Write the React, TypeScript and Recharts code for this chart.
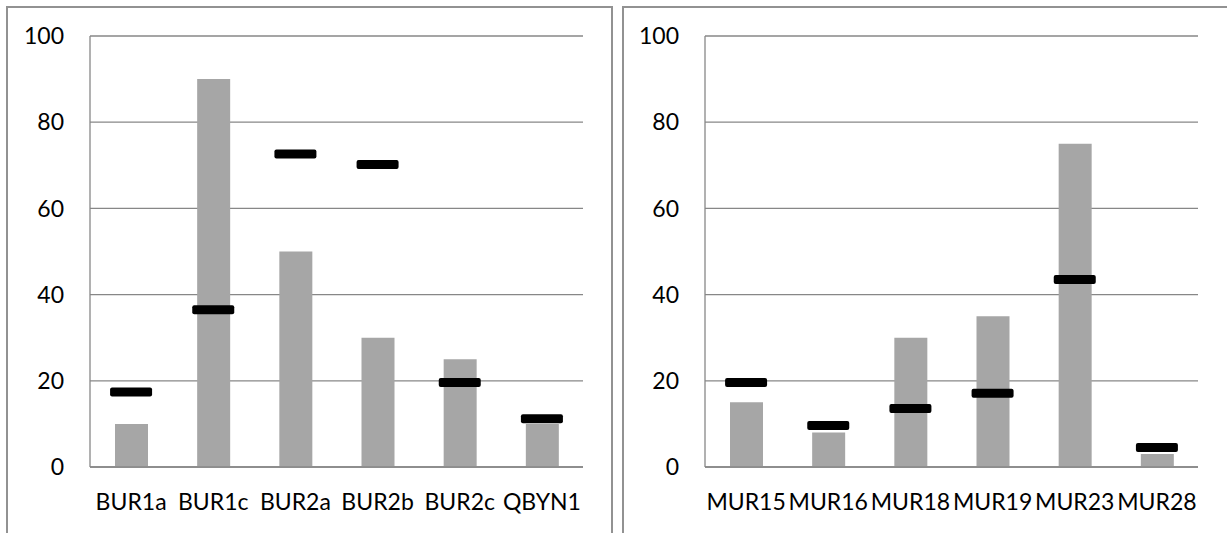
import React from 'react';
import { ComposedChart, Bar, Line, XAxis, YAxis, CartesianGrid } from 'recharts';

// left panel
const burSites = ['BUR1a', 'BUR1c', 'BUR2a', 'BUR2b', 'BUR2c', 'QBYN1'];
const burBars = [10, 90, 50, 30, 25, 10];
const burMarks = [17.4, 36.5, 72.6, 70.2, 19.6, 11.2];

// right panel
const murSites = ['MUR15', 'MUR16', 'MUR18', 'MUR19', 'MUR23', 'MUR28'];
const murBars = [15, 8, 30, 35, 75, 3];
const murMarks = [19.6, 9.6, 13.6, 17.1, 43.5, 4.5];

const yTicks = [0, 20, 40, 60, 80, 100];

const GRID = '#878787';
const FONT = 'Lato, "Open Sans", sans-serif';

const Marker = (props: any) => {
  const { cx, cy, index } = props;
  if (cx == null || cy == null) return <g key={index} />;
  return <rect key={index} x={cx - 21} y={cy - 4.5} width={42} height={9} rx={2} fill="#000" />;
};

const Panel: React.FC<{ sites: string[]; bars: number[]; marks: number[] }> = ({ sites, bars, marks }) => {
  const data = sites.map((site, i) => ({ site, bar: bars[i], mark: marks[i] }));
  return (
    <ComposedChart
      width={612}
      height={533}
      data={data}
      margin={{ top: 36, right: 29, left: 0, bottom: 26 }}
    >
      <CartesianGrid vertical={false} stroke={GRID} strokeWidth={1.3} />
      <XAxis
        dataKey="site"
        height={40}
        tickLine={false}
        tickSize={0}
        tickMargin={27}
        axisLine={{ stroke: GRID, strokeWidth: 1.3 }}
        tick={{ fill: '#000', fontSize: 23, fontFamily: FONT }}
        interval={0}
      />
      <YAxis
        width={90}
        domain={[0, 100]}
        ticks={yTicks}
        tickLine={false}
        tickSize={0}
        tickMargin={26}
        axisLine={{ stroke: GRID, strokeWidth: 1.3 }}
        tick={{ fill: '#000', fontSize: 23, fontFamily: FONT }}
      />
      <Bar dataKey="bar" fill="#a6a6a6" barSize={33} isAnimationActive={false} />
      <Line
        dataKey="mark"
        stroke="none"
        dot={Marker}
        activeDot={false}
        isAnimationActive={false}
      />
    </ComposedChart>
  );
};

const frame: React.CSSProperties = {
  position: 'absolute',
  top: 6,
  height: 560,
  border: '2px solid #929292',
  borderBottom: 'none',
  boxSizing: 'border-box',
};

export default function App() {
  return (
    <div style={{ position: 'fixed', left: 0, top: 0, width: 1227, height: 533, overflow: 'hidden', background: '#fff' }}>
      <div style={{ ...frame, left: 6, width: 607 }} />
      <div style={{ ...frame, left: 622, width: 640 }} />
      <div style={{ position: 'absolute', left: 0, top: 0 }}>
        <Panel sites={burSites} bars={burBars} marks={burMarks} />
      </div>
      <div style={{ position: 'absolute', left: 615, top: 0 }}>
        <Panel sites={murSites} bars={murBars} marks={murMarks} />
      </div>
    </div>
  );
}
